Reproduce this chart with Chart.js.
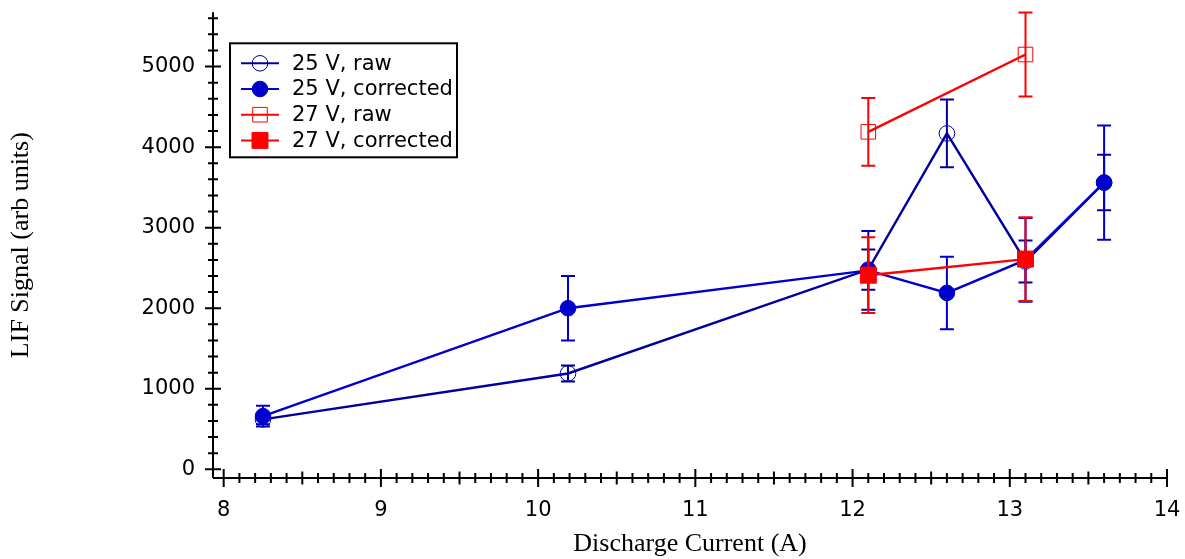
<!DOCTYPE html>
<html>
<head>
<meta charset="utf-8">
<script src="https://cdn.jsdelivr.net/npm/chart.js@4/dist/chart.umd.min.js"></script>
<style>
  html, body { margin: 0; padding: 0; background: #fff; }
</style>
</head>
<body>
<canvas id="lifChart" width="1185" height="559"></canvas>
<script>
// discharge current (A) for the two voltages
var current25 = [8.25, 10.19, 12.1, 12.6, 13.1, 13.6];
var current27 = [12.1, 13.1];

// LIF signal (arb units) and error bar half-widths
var raw25 = [620, 1190, 2480, 4170, 2580, 3560];
var raw25Err = [60, 100, 250, 420, 260, 345];
var corr25 = [660, 2000, 2470, 2190, 2600, 3560];
var corr25Err = [130, 400, 490, 450, 520, 710];
var raw27 = [4190, 5150];
var raw27Err = [420, 520];
var corr27 = [2410, 2610];
var corr27Err = [470, 520];

var xTicks = [8, 9, 10, 11, 12, 13, 14];
var yTicks = [0, 1000, 2000, 3000, 4000, 5000];
var seriesLabels = ['25 V, raw', '25 V, corrected', '27 V, raw', '27 V, corrected'];

var blueRaw = '#0000A0';
var blueCorr = '#0000CC';
var red = '#FF0000';

function points(xs, ys, errs) {
  var out = [];
  for (var i = 0; i < xs.length; i++) {
    out.push({ x: xs[i], y: ys[i], err: errs[i] });
  }
  return out;
}

// vertical error bars with caps, drawn right after each dataset
var errorBars = {
  id: 'errorBars',
  afterDatasetDraw: function(chart, args) {
    var ds = chart.data.datasets[args.index];
    var xs = chart.scales.x, ys = chart.scales.y, ctx = chart.ctx;
    ctx.save();
    ctx.strokeStyle = ds.borderColor;
    ctx.lineWidth = 2;
    ds.data.forEach(function(p) {
      var px = xs.getPixelForValue(p.x);
      var top = ys.getPixelForValue(p.y + p.err);
      var bot = ys.getPixelForValue(p.y - p.err);
      ctx.beginPath();
      ctx.moveTo(px, top); ctx.lineTo(px, bot);
      ctx.moveTo(px - 7, top); ctx.lineTo(px + 7, top);
      ctx.moveTo(px - 7, bot); ctx.lineTo(px + 7, bot);
      ctx.stroke();
    });
    ctx.restore();
  }
};

// axis lines with crossing major/minor ticks
var axesFrame = {
  id: 'axesFrame',
  beforeDatasetsDraw: function(chart) {
    var a = chart.chartArea, xs = chart.scales.x, ys = chart.scales.y, ctx = chart.ctx;
    ctx.save();
    ctx.strokeStyle = '#000';
    ctx.lineWidth = 2;
    ctx.beginPath();
    ctx.moveTo(a.left, a.top); ctx.lineTo(a.left, a.bottom);
    ctx.moveTo(a.left, a.bottom); ctx.lineTo(a.right, a.bottom);
    for (var v = 0; v <= ys.max; v += 200) {
      var py = ys.getPixelForValue(v);
      var len = (v % 1000 === 0) ? 8 : 5;
      ctx.moveTo(a.left - len, py); ctx.lineTo(a.left + len, py);
    }
    for (var k = 80; k <= 140; k++) {
      var px = xs.getPixelForValue(k / 10);
      var tl = (k % 10 === 0) ? 9 : ((k % 5 === 0) ? 6.5 : 5);
      ctx.moveTo(px, a.bottom - tl); ctx.lineTo(px, a.bottom + tl);
    }
    ctx.stroke();
    ctx.restore();
  }
};

// boxed legend inside the plot, line sample with marker
var boxLegend = {
  id: 'boxLegend',
  afterDraw: function(chart) {
    var a = chart.chartArea, ctx = chart.ctx;
    var left = a.left + 17, top = a.top + 31, w = 227, h = 114;
    ctx.save();
    ctx.fillStyle = '#fff';
    ctx.fillRect(left, top, w, h);
    ctx.strokeStyle = '#000';
    ctx.lineWidth = 2;
    ctx.strokeRect(left, top, w, h);
    ctx.font = '21px "DejaVu Sans"';
    ctx.textBaseline = 'middle';
    ctx.textAlign = 'left';
    chart.data.datasets.forEach(function(ds, i) {
      var cy = top + 20 + i * 25.7;
      ctx.strokeStyle = ds.borderColor;
      ctx.lineWidth = 2;
      ctx.beginPath();
      ctx.moveTo(left + 11, cy); ctx.lineTo(left + 49, cy);
      ctx.stroke();
      ctx.fillStyle = ds.pointBackgroundColor;
      ctx.strokeStyle = ds.pointBorderColor;
      ctx.lineWidth = ds.pointBorderWidth;
      Chart.helpers.drawPoint(ctx, {
        pointStyle: ds.pointStyle, radius: ds.pointRadius, borderWidth: ds.pointBorderWidth, rotation: 0
      }, left + 30, cy);
      ctx.fillStyle = '#000';
      ctx.fillText(ds.label, left + 62, cy + 1);
    });
    ctx.restore();
  }
};

var tickFont = { family: 'DejaVu Sans', size: 21 };
var titleFont = { family: 'Liberation Serif', size: 26, lineHeight: 1 };

function plainLabel(value) { return String(value); }

var ctx = document.getElementById('lifChart').getContext('2d');
var myChart = new Chart(ctx, {
  type: 'scatter',
  data: {
    datasets: [{
      label: seriesLabels[0],
      data: points(current25, raw25, raw25Err),
      showLine: true,
      borderColor: blueRaw,
      borderWidth: 2.4,
      pointStyle: 'circle',
      pointRadius: 7.8,
      pointBorderWidth: 1,
      pointBorderColor: blueRaw,
      pointBackgroundColor: 'rgba(0,0,0,0)',
      order: 3
    }, {
      label: seriesLabels[1],
      data: points(current25, corr25, corr25Err),
      showLine: true,
      borderColor: blueCorr,
      borderWidth: 2.4,
      pointStyle: 'circle',
      pointRadius: 7.8,
      pointBorderWidth: 1,
      pointBorderColor: blueCorr,
      pointBackgroundColor: blueCorr,
      order: 2
    }, {
      label: seriesLabels[2],
      data: points(current27, raw27, raw27Err),
      showLine: true,
      borderColor: red,
      borderWidth: 2.4,
      pointStyle: 'rect',
      pointRadius: 10.3,
      pointBorderWidth: 1,
      pointBorderColor: red,
      pointBackgroundColor: 'rgba(0,0,0,0)',
      order: 1
    }, {
      label: seriesLabels[3],
      data: points(current27, corr27, corr27Err),
      showLine: true,
      borderColor: red,
      borderWidth: 2.4,
      pointStyle: 'rect',
      pointRadius: 11.3,
      pointBorderWidth: 1,
      pointBorderColor: red,
      pointBackgroundColor: red,
      order: 0
    }]
  },
  options: {
    responsive: false,
    animation: false,
    events: [],
    layout: { padding: { left: 0, right: 18, top: 12, bottom: 0 } },
    plugins: {
      legend: { display: false },
      tooltip: { enabled: false }
    },
    scales: {
      x: {
        type: 'linear',
        min: 7.932,
        max: 14,
        afterBuildTicks: function(scale) {
          scale.ticks = xTicks.map(function(v) { return { value: v }; });
        },
        afterFit: function(scale) {
          scale.height = 81;
          scale.paddingLeft = 0;
          scale.paddingRight = 0;
        },
        grid: { display: false, drawTicks: false },
        border: { display: false },
        ticks: { font: tickFont, color: '#000', padding: 20, maxRotation: 0, autoSkip: false, callback: plainLabel },
        title: {
          display: true,
          text: 'Discharge Current (A)',
          font: titleFont,
          color: '#000',
          padding: { top: 2, bottom: 2 }
        }
      },
      y: {
        type: 'linear',
        min: -108,
        max: 5674,
        afterBuildTicks: function(scale) {
          scale.ticks = yTicks.map(function(v) { return { value: v }; });
        },
        afterFit: function(scale) {
          scale.width = 213;
          scale.paddingTop = 0;
          scale.paddingBottom = 0;
        },
        grid: { display: false, drawTicks: false },
        border: { display: false },
        ticks: { font: tickFont, color: '#000', padding: 18, autoSkip: false, callback: plainLabel },
        title: {
          display: true,
          text: 'LIF Signal (arb units)',
          font: titleFont,
          color: '#000',
          padding: { top: 8, bottom: 8 }
        }
      }
    }
  },
  plugins: [axesFrame, errorBars, boxLegend]
});
</script>
</body>
</html>
